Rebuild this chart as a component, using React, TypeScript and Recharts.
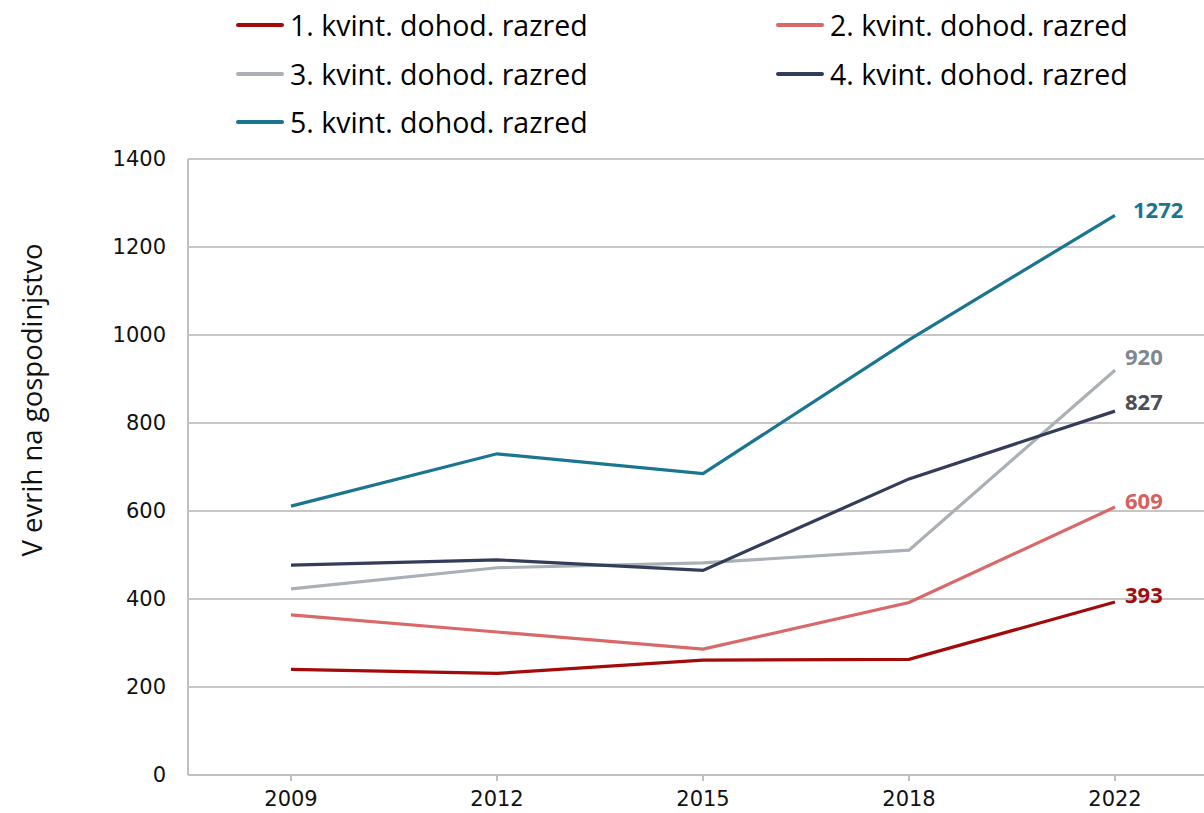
import { LineChart, Line, XAxis, YAxis, CartesianGrid, LabelList } from 'recharts';

const years = ['2009', '2012', '2015', '2018', '2022'];
const q1 = [240, 231, 261, 263, 393];
const q2 = [364, 325, 286, 392, 609];
const q3 = [423, 471, 482, 511, 920];
const q4 = [477, 489, 465, 673, 827];
const q5 = [611, 730, 685, 989, 1272];
const yTicks = [0, 200, 400, 600, 800, 1000, 1200, 1400];

const series = [
  { key: 'q1', name: '1. kvint. dohod. razred', values: q1, color: '#a30b0b', labelColor: '#a30b0b', dx: 10, dy: -5 },
  { key: 'q2', name: '2. kvint. dohod. razred', values: q2, color: '#d96868', labelColor: '#d65f5f', dx: 10, dy: -4 },
  { key: 'q3', name: '3. kvint. dohod. razred', values: q3, color: '#aab0b5', labelColor: '#7e8790', dx: 10, dy: -11 },
  { key: 'q4', name: '4. kvint. dohod. razred', values: q4, color: '#333c58', labelColor: '#4a4f57', dx: 10, dy: -7 },
  { key: 'q5', name: '5. kvint. dohod. razred', values: q5, color: '#1a7590', labelColor: '#1a7590', dx: 18, dy: -3 },
];

const data = years.map((year, i) => {
  const row: Record<string, string | number> = { year };
  series.forEach((s) => (row[s.key] = s.values[i]));
  return row;
});

// legend positions: two columns, three rows
const legendCols = [236, 776];
const legendRows = [25, 74, 122];

const endLabel = (color: string, dx: number, dy: number) => (props: any) => {
  const { x, y, index, value } = props;
  if (index !== years.length - 1) return null;
  return (
    <text
      x={x + dx}
      y={y + dy}
      fill={color}
      fontFamily="Open Sans"
      fontWeight={700}
      fontSize={22}
      dominantBaseline="middle"
    >
      {value}
    </text>
  );
};

export default function App() {
  return (
    <div style={{ position: 'absolute', left: 0, top: 0, width: 1204, height: 813, overflow: 'hidden', background: '#fff' }}>
      {series.map((s, i) => (
        <div
          key={s.key}
          style={{
            position: 'absolute',
            left: legendCols[i % 2],
            top: legendRows[Math.floor(i / 2)] - 20,
            height: 40,
            display: 'flex',
            alignItems: 'center',
            fontFamily: 'Open Sans',
            fontSize: 28.5,
            color: '#000',
            whiteSpace: 'nowrap',
          }}
        >
          <span style={{ display: 'inline-block', width: 48, height: 4, borderRadius: 2, background: s.color, marginRight: 6 }} />
          {s.name}
        </div>
      ))}
      <LineChart width={1230} height={813} data={data} margin={{ top: 159, right: 12, bottom: 0, left: 0 }}>
        <CartesianGrid vertical={false} stroke="#c6c6c6" strokeWidth={2} />
        <XAxis
          dataKey="year"
          height={38}
          padding={{ left: 103, right: 103 }}
          axisLine={{ stroke: '#c0c0c0', strokeWidth: 2 }}
          tickLine={{ stroke: '#c0c0c0', strokeWidth: 2 }}
          tickSize={6}
          tickMargin={10}
          tick={{ fill: '#111', fontSize: 21, fontFamily: 'DejaVu Sans' }}
        />
        <YAxis
          width={188}
          domain={[0, 1400]}
          ticks={yTicks}
          interval={0}
          axisLine={{ stroke: '#c0c0c0', strokeWidth: 2 }}
          tickLine={false}
          tickMargin={16}
          tick={{ fill: '#111', fontSize: 21, fontFamily: 'DejaVu Sans' }}
          label={{
            content: () => (
              <text
                x={35}
                y={400}
                transform="rotate(-90 35 400)"
                textAnchor="middle"
                dominantBaseline="middle"
                fontFamily="Open Sans"
                fontSize={27.5}
                fill="#111"
              >
                V evrih na gospodinjstvo
              </text>
            ),
          }}
        />
        {series.map((s) => (
          <Line
            key={s.key}
            dataKey={s.key}
            name={s.name}
            stroke={s.color}
            strokeWidth={3.2}
            dot={false}
            activeDot={false}
            isAnimationActive={false}
          >
            <LabelList dataKey={s.key} content={endLabel(s.labelColor, s.dx, s.dy)} />
          </Line>
        ))}
      </LineChart>
    </div>
  );
}
